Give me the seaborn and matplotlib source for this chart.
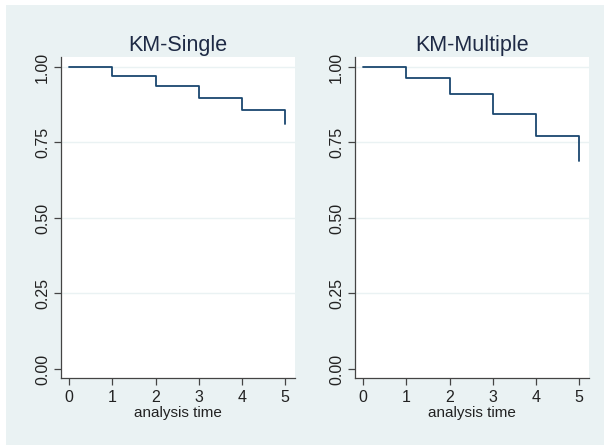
import numpy as np
import pandas as pd
import seaborn as sns
import matplotlib
matplotlib.use('Agg')
import matplotlib.pyplot as plt
from matplotlib.patches import Rectangle

# Kaplan-Meier estimates
times = [0, 1, 2, 3, 4, 5]
surv_single = [1.0, 0.969, 0.937, 0.897, 0.858, 0.812]
surv_multiple = [1.0, 0.962, 0.912, 0.843, 0.770, 0.689]
titles = ['KM-Single', 'KM-Multiple']
y_ticks = [0.0, 0.25, 0.5, 0.75, 1.0]
y_ticklabels = ['0.00', '0.25', '0.50', '0.75', '1.00']

sns.set_style('white')
plt.rcParams['font.family'] = ['Liberation Sans', 'DejaVu Sans']

bg = '#eaf2f3'
navy = '#1a476f'
text_col = '#1e2a45'

fig = plt.figure(figsize=(6.04, 4.45), dpi=100, facecolor='white')
# light graph region, leaving a thin white margin top and left
fig.add_artist(Rectangle((6 / 604, 0), 1 - 6 / 604, 1 - 5 / 445,
                         transform=fig.transFigure, facecolor=bg,
                         edgecolor='none', zorder=-10))

lefts = [61 / 604, 355 / 604]
width = 234 / 604
bottom = 1 - 378 / 445
height = (378 - 57) / 445

for i, (surv, title) in enumerate(zip([surv_single, surv_multiple], titles)):
    ax = fig.add_axes([lefts[i], bottom, width, height])
    ax.set_facecolor('white')
    df = pd.DataFrame({'time': times, 'surv': surv})
    for yt in y_ticks[1:]:
        ax.axhline(yt, color=bg, lw=1.0, zorder=1)
    sns.lineplot(data=df, x='time', y='surv', drawstyle='steps-post',
                 color=navy, lw=1.3, ax=ax, zorder=3)
    ax.set_xlim(-0.19, 5.23)
    ax.set_ylim(-0.03, 1.033)
    ax.set_xticks(times)
    ax.set_yticks(y_ticks)
    ax.set_yticklabels(y_ticklabels, rotation=90, va='center')
    ax.tick_params(axis='both', direction='out', length=5, width=0.9,
                   color='#444444', labelsize=11.5, labelcolor='#222222',
                   left=True, bottom=True, pad=3)
    ax.tick_params(axis='x', pad=4)
    for s in ['top', 'right']:
        ax.spines[s].set_visible(False)
    for s in ['left', 'bottom']:
        ax.spines[s].set_color('#444444')
        ax.spines[s].set_linewidth(0.9)
    ax.set_xlabel('analysis time', fontsize=11, color='#222222', labelpad=0)
    ax.set_ylabel('')
    ax.set_title(title, fontsize=15.5, color=text_col, pad=4)

fig.savefig('out.png', dpi=100, facecolor='white')
